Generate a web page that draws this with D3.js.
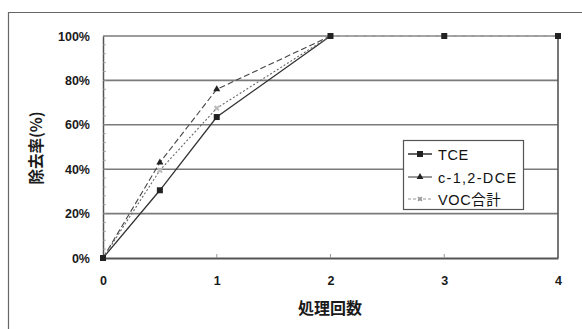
<!DOCTYPE html>
<html><head><meta charset="utf-8">
<script src="https://cdnjs.cloudflare.com/ajax/libs/d3/7.8.5/d3.min.js"></script>
<style>
html,body{margin:0;padding:0;background:#fff;}
svg{display:block;font-family:"Liberation Sans",Arial,sans-serif;}
</style></head>
<body>
<svg id="c" width="582" height="329"></svg>
<script>
// 処理回数ごとの除去率
const xTicks = [0, 1, 2, 3, 4];
const yTicks = [0, 20, 40, 60, 80, 100];
const tceX = [0, 0.5, 1, 2, 3, 4];
const tceY = [0, 30.5, 63.5, 100, 100, 100];
const dceX = [0, 0.5, 1, 2];
const dceY = [0, 43, 76, 100];
const vocX = [0, 0.5, 1, 2];
const vocY = [0, 39.5, 67.5, 100];
const seriesNames = ["TCE", "c-1,2-DCE", "VOC合計"];

const svg = d3.select("#c");
const m = {l: 103, t: 36, r: 558, b: 258};
const x = d3.scaleLinear().domain([0, 4]).range([m.l, m.r]);
const y = d3.scaleLinear().domain([0, 100]).range([m.b, m.t]);

// outer frame (left and top edges)
svg.append("path").attr("d", `M8.5,329 V12.5 H582`).attr("fill", "none").attr("stroke", "#666").attr("stroke-width", 1.2);

// horizontal gridlines
svg.append("g").selectAll("line").data(yTicks.filter(d => d > 0)).join("line")
  .attr("x1", m.l).attr("x2", m.r).attr("y1", d => y(d)).attr("y2", d => y(d))
  .attr("stroke", "#7a7a7a").attr("stroke-width", 1.6);

// plot area right edge
svg.append("line").attr("x1", m.r).attr("x2", m.r).attr("y1", m.t).attr("y2", m.b)
  .attr("stroke", "#555").attr("stroke-width", 1.6);

// y axis with minor ticks
const yAxis = d3.axisLeft(y).tickValues(yTicks).tickFormat(d => d + "%").tickSize(0).tickPadding(13);
const gy = svg.append("g").attr("transform", `translate(${m.l},0)`).call(yAxis);
gy.select(".domain").attr("stroke", "#555").attr("stroke-width", 1.5);
gy.selectAll("text").attr("font-size", 12.5).attr("font-weight", "bold").attr("fill", "#1a1a1a");
svg.append("g").selectAll("line").data(d3.range(0, 101, 4)).join("line")
  .attr("x1", m.l).attr("x2", m.l + 3).attr("y1", d => y(d)).attr("y2", d => y(d))
  .attr("stroke", "#999").attr("stroke-width", 0.8);

// x axis
const xAxis = d3.axisBottom(x).tickValues(xTicks).tickFormat(d3.format("d")).tickSize(0).tickPadding(18);
const gx = svg.append("g").attr("transform", `translate(0,${m.b})`).call(xAxis);
gx.select(".domain").attr("stroke", "#555").attr("stroke-width", 1.8);
gx.selectAll("text").attr("font-size", 12.5).attr("font-weight", "bold").attr("fill", "#1a1a1a");
svg.append("g").selectAll("line").data(xTicks.slice(1, 4)).join("line")
  .attr("x1", d => x(d)).attr("x2", d => x(d)).attr("y1", m.b).attr("y2", m.b - 4)
  .attr("stroke", "#999").attr("stroke-width", 1);

// axis titles
svg.append("text").attr("x", 330).attr("y", 314).attr("text-anchor", "middle")
  .attr("font-size", 16).attr("font-weight", "bold").attr("fill", "#1a1a1a")
  .attr("font-family", "'Noto Sans CJK JP',sans-serif").text("処理回数");
svg.append("text").attr("transform", "translate(42,148) rotate(-90)").attr("text-anchor", "middle")
  .attr("font-size", 15.5).attr("font-weight", "bold").attr("fill", "#1a1a1a")
  .attr("font-family", "'Noto Sans CJK JP',sans-serif").text("除去率(%)");

const line = d3.line().x(d => x(d[0])).y(d => y(d[1]));
const pts = (xs, ys) => xs.map((v, i) => [v, ys[i]]);

// TCE: solid line to 2, then light line along 100%
const tce = pts(tceX, tceY);
svg.append("path").attr("d", line(tce.slice(0, 4))).attr("fill", "none")
  .attr("stroke", "#333").attr("stroke-width", 1.3);
svg.append("path").attr("d", line(tce.slice(3))).attr("fill", "none")
  .attr("stroke", "#aaa").attr("stroke-width", 1.4).attr("stroke-dasharray", "6,3");

// c-1,2-DCE dashed
const dce = pts(dceX, dceY);
svg.append("path").attr("d", line(dce)).attr("fill", "none")
  .attr("stroke", "#444").attr("stroke-width", 1.1).attr("stroke-dasharray", "6,3");

// VOC合計 fine dotted
const voc = pts(vocX, vocY);
svg.append("path").attr("d", line(voc)).attr("fill", "none")
  .attr("stroke", "#666").attr("stroke-width", 1.1).attr("stroke-dasharray", "2,2");

// markers
svg.append("g").selectAll("rect").data(tce).join("rect")
  .attr("x", d => x(d[0]) - 3).attr("y", d => y(d[1]) - 3).attr("width", 6).attr("height", 6)
  .attr("fill", "#222");
svg.append("g").selectAll("path").data(dce.slice(1, 3)).join("path")
  .attr("d", d3.symbol(d3.symbolTriangle, 22))
  .attr("transform", d => `translate(${x(d[0])},${y(d[1])})`).attr("fill", "#222");
svg.append("g").selectAll("path").data(voc.slice(1, 3)).join("path")
  .attr("d", d3.symbol(d3.symbolCross, 20))
  .attr("transform", d => `translate(${x(d[0])},${y(d[1])}) rotate(45)`).attr("fill", "#bbb");

// legend
const lg = svg.append("g");
lg.append("rect").attr("x", 403.5).attr("y", 140.5).attr("width", 120).attr("height", 69)
  .attr("fill", "#fff").attr("stroke", "#555").attr("stroke-width", 1.2);
const ly = [154, 177, 199];
const styles = [
  {stroke: "#222", dash: null, w: 1.4},
  {stroke: "#333", dash: null, w: 1},
  {stroke: "#bbb", dash: "3,2", w: 1.5}
];
seriesNames.forEach((n, i) => {
  lg.append("line").attr("x1", 408).attr("x2", 432).attr("y1", ly[i]).attr("y2", ly[i])
    .attr("stroke", styles[i].stroke).attr("stroke-width", styles[i].w)
    .attr("stroke-dasharray", styles[i].dash);
  lg.append("text").attr("x", 438).attr("y", ly[i] + 5.5).attr("font-size", 14.5)
    .attr("letter-spacing", i === 1 ? 1.3 : 0.6)
    .attr("fill", "#111").attr("font-family", "'Liberation Sans','Noto Sans CJK JP',sans-serif").text(n);
});
lg.append("rect").attr("x", 417).attr("y", ly[0] - 3).attr("width", 6).attr("height", 6).attr("fill", "#222");
lg.append("path").attr("d", d3.symbol(d3.symbolTriangle, 20)).attr("transform", `translate(420,${ly[1]})`).attr("fill", "#222");
lg.append("path").attr("d", d3.symbol(d3.symbolCross, 16)).attr("transform", `translate(420,${ly[2]}) rotate(45)`).attr("fill", "#999");
</script>
</body></html>
